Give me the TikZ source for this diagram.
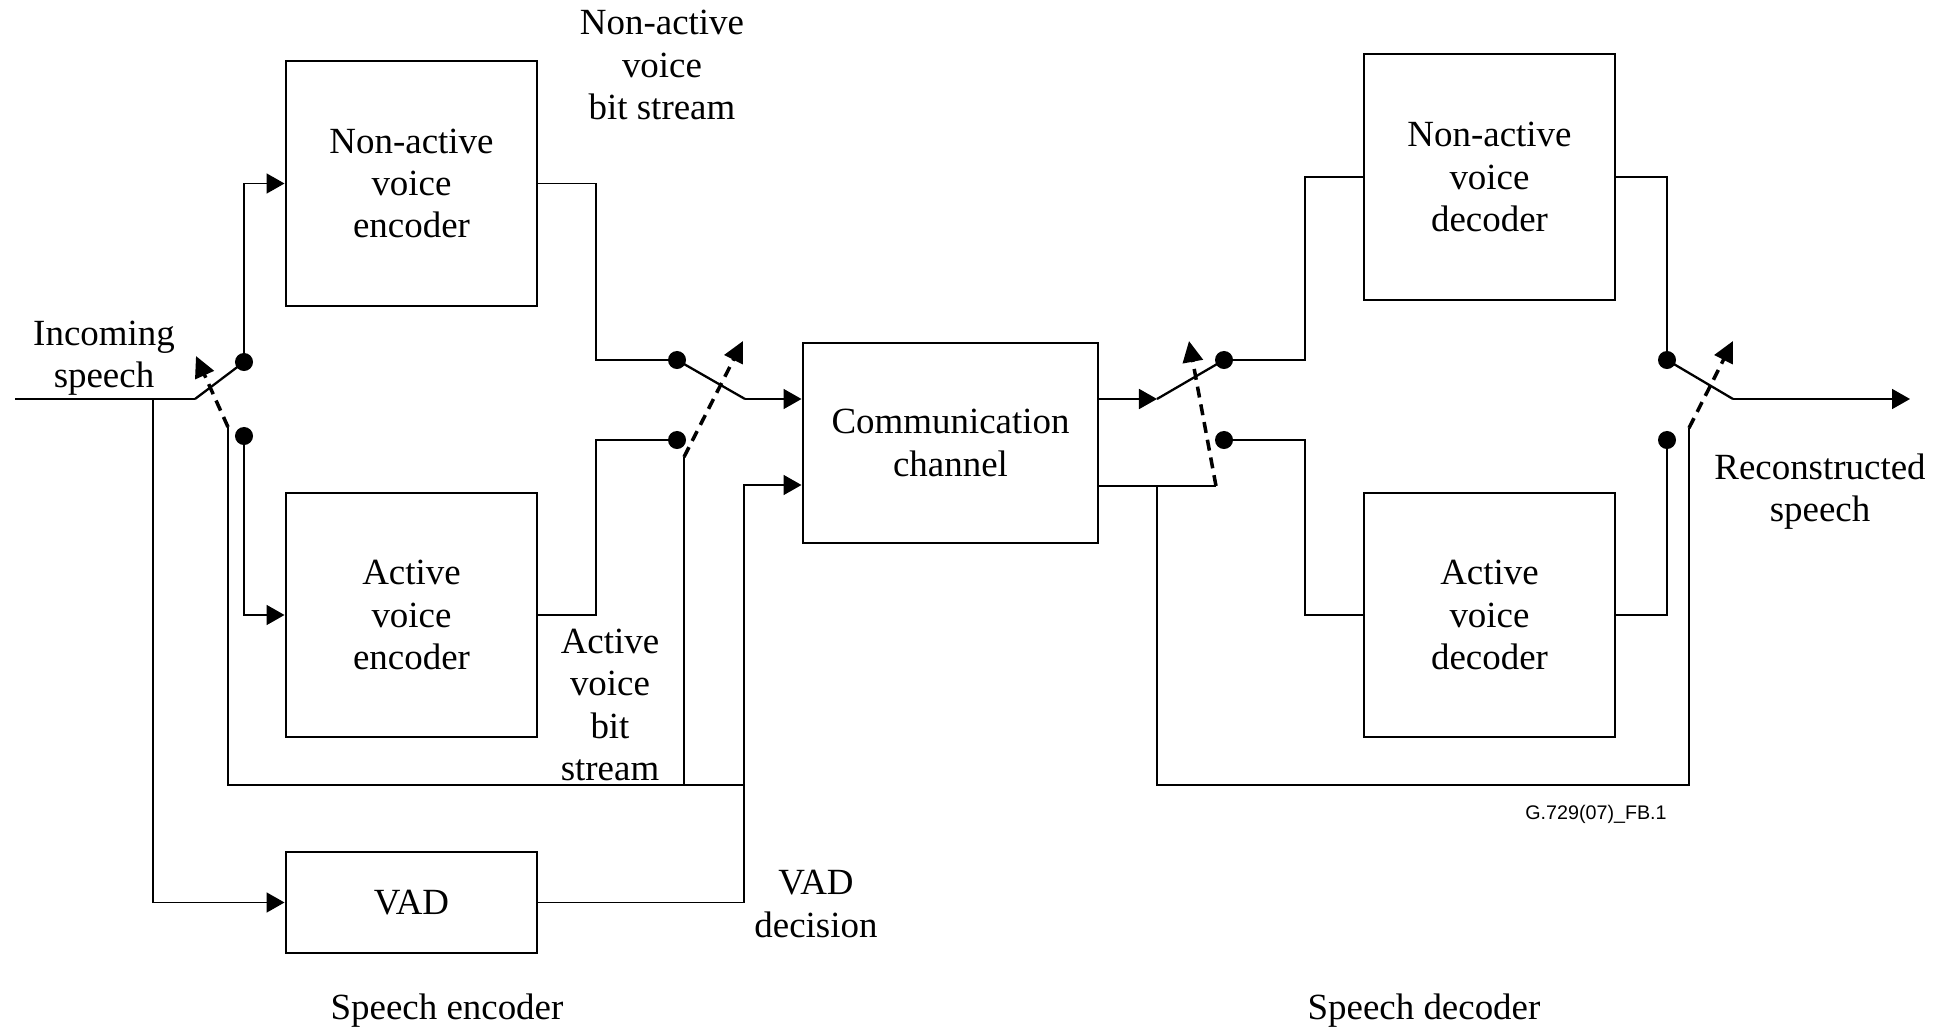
\documentclass[tikz,border=0pt]{standalone}
\usepackage{fontspec}
\setmainfont{Liberation Serif}
\newfontfamily\labelsans{Liberation Sans}
\usetikzlibrary{arrows.meta}

\begin{document}
\begin{tikzpicture}[x=0.01cm,y=-0.01cm,
  block/.style={draw, line width=0.8pt, align=center, inner sep=0pt,
    font=\fontsize{10.5}{12}\selectfont},
  lbl/.style={align=center, inner sep=0pt, font=\fontsize{10.5}{12}\selectfont},
  wire/.style={line width=0.5pt},
  arr/.style={wire, -{Triangle[length=0.18cm,width=0.2cm]}},
  blade/.style={line width=0.65pt},
  ctrl/.style={line width=1pt, dash pattern=on 0.11cm off 0.07cm,
    -{Triangle[length=0.21cm,width=0.2cm]}},
  contact/.style={circle, fill, inner sep=0pt, minimum size=0.18cm},
]
\useasboundingbox (0,0) rectangle (1941,1027);

% ---------- blocks ----------
\node[block, minimum width=2.51cm, minimum height=2.45cm] (nae) at (411.5,183.5) {Non-active\\voice\\encoder};
\node[block, minimum width=2.51cm, minimum height=2.44cm] (ae) at (411.5,615) {Active\\voice\\encoder};
\node[block, minimum width=2.51cm, minimum height=1.01cm] (vad) at (411.5,902.5) {VAD};
\node[block, minimum width=2.95cm, minimum height=2.00cm] (comm) at (950.5,443) {Communication\\channel};
\node[block, minimum width=2.51cm, minimum height=2.46cm] (nad) at (1489.5,177) {Non-active\\voice\\decoder};
\node[block, minimum width=2.51cm, minimum height=2.44cm] (ad) at (1489.5,615) {Active\\voice\\decoder};

% ---------- encoder input switch ----------
\coordinate (in) at (15,399);
\coordinate (p1) at (195,399);
\coordinate (tap) at (153,399);
\node[contact] (d1a) at (244,362) {};
\node[contact] (d1b) at (244,436) {};
\coordinate (c1s) at (228,427);
\coordinate (c1e) at (196,356);

% ---------- encoder output switch ----------
\node[contact] (d2a) at (677,360) {};
\node[contact] (d2b) at (677,440) {};
\coordinate (j2a) at (596,360);
\coordinate (j2b) at (596,440);
\coordinate (p2) at (745,399);
\coordinate (c2s) at (684,457);
\coordinate (c2e) at (743,341);
\coordinate (vd) at (744,485);
\coordinate (b2) at (744,785);

% ---------- decoder input switch ----------
\coordinate (p3) at (1157,399);
\node[contact] (d3a) at (1224,360) {};
\node[contact] (d3b) at (1224,440) {};
\coordinate (j3a) at (1305,360);
\coordinate (j3b) at (1305,440);
\coordinate (c3s) at (1216,486);
\coordinate (c3e) at (1189,341);
\coordinate (fb) at (1157,486);
\coordinate (b3) at (1157,785);

% ---------- decoder output switch ----------
\node[contact] (d4a) at (1667,360) {};
\node[contact] (d4b) at (1667,440) {};
\coordinate (p4) at (1733,399);
\coordinate (out) at (1910,399);
\coordinate (c4s) at (1689,428);
\coordinate (c4e) at (1733,341);

% ---------- encoder wiring ----------
\draw[wire] (in) -- (p1);
\draw[blade] (p1) -- (d1a.center);
\draw[arr] (d1a.center) |- (nae.west);
\draw[arr] (d1b.center) |- (ae.west);
\draw[arr] (tap) |- (vad.west);
\draw[ctrl] (c1s) -- (c1e);
\draw[wire] (c1s) |- (b2);
\draw[wire] (c2s) -- (c2s |- b2);
\draw[wire] (nae.east) -| (j2a) -- (d2a.center);
\draw[wire] (ae.east) -| (j2b) -- (d2b.center);
\draw[blade] (d2a.center) -- (p2);
\draw[arr] (p2) -- (p2 -| comm.west);
\draw[ctrl] (c2s) -- (c2e);
\draw[arr] (vad.east) -| (vd) -- (vd -| comm.west);

% ---------- decoder wiring ----------
\draw[arr] (p3 -| comm.east) -- (p3);
\draw[blade] (p3) -- (d3a.center);
\draw[wire] (c3s -| comm.east) -- (c3s);
\draw[ctrl] (c3s) -- (c3e);
\draw[wire] (fb) -- (b3) -| (c4s);
\draw[wire] (d3a.center) -- (j3a) |- (nad.west);
\draw[wire] (d3b.center) -- (j3b) |- (ad.west);
\draw[wire] (nad.east) -| (d4a.center);
\draw[wire] (ad.east) -| (d4b.center);
\draw[blade] (d4a.center) -- (p4);
\draw[arr] (p4) -- (out);
\draw[ctrl] (c4s) -- (c4e);

% ---------- labels ----------
\node[lbl] (lnab) at (662,65) {Non-active\\voice\\bit stream};
\node[lbl] (lin) at (104,358) {Incoming\\speech};
\node[lbl] (lab) at (610,705) {Active\\voice\\bit\\stream};
\node[lbl] (lvd) at (816,904) {VAD\\decision};
\node[lbl] (lse) at (447,1011) {Speech encoder};
\node[lbl] (lsd) at (1424,1011) {Speech decoder};
\node[lbl] (lrs) at (1820,492) {Reconstructed\\speech};
\node[inner sep=0pt, font=\labelsans\fontsize{5.6}{7}\selectfont] (fig) at (1596,814) {G.729(07)\_FB.1};

\end{tikzpicture}
\end{document}
